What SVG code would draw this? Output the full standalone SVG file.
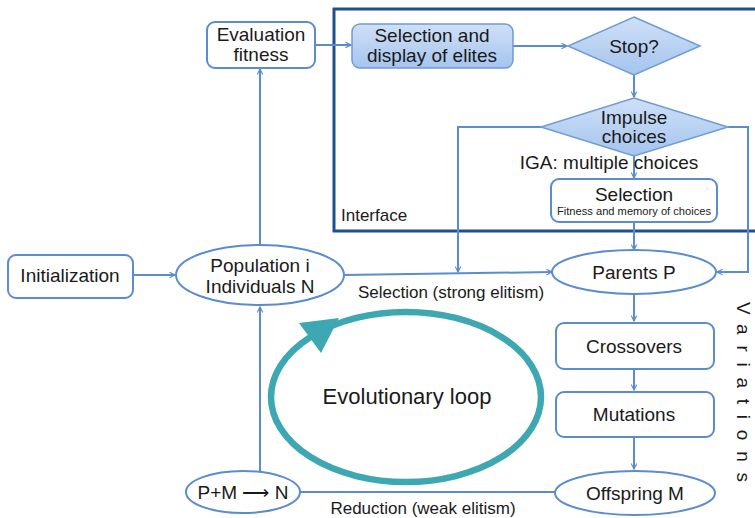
<svg xmlns="http://www.w3.org/2000/svg" width="755" height="518" viewBox="0 0 755 518">
<defs>
<style>
.n{fill:#fff;stroke:#5a8ccf;stroke-width:2}
.t{font-family:"Liberation Sans",Arial,sans-serif;font-size:19px;fill:#1a1a1a;text-anchor:middle}
.s{font-family:"Liberation Sans",Arial,sans-serif;font-size:17px;fill:#1a1a1a;text-anchor:middle}
.c{fill:none;stroke:#5a8ccf;stroke-width:2}
</style>
<linearGradient id="g" x1="0" y1="0" x2="0" y2="1">
<stop offset="0" stop-color="#cfe0f7"/>
<stop offset="1" stop-color="#a5c4ee"/>
</linearGradient>
<marker id="a" viewBox="0 0 10 10" refX="9" refY="5" markerWidth="7" markerHeight="7" markerUnits="userSpaceOnUse" orient="auto">
<path d="M1,1 L9,5 L1,9" fill="none" stroke="#5a8ccf" stroke-width="1.6"/>
</marker>
</defs>
<rect width="755" height="518" fill="#fff"/>

<g id="interface">
<rect x="334" y="9" width="430" height="222" fill="none" stroke="#1f4f8f" stroke-width="3"/>
<text x="341" y="221" class="s" style="text-anchor:start">Interface</text>
</g>

<g id="connectors">
<path class="c" d="M315,45 H351" marker-end="url(#a)"/>
<path class="c" d="M513,46 H567" marker-end="url(#a)"/>
<path class="c" d="M634,75 V97" marker-end="url(#a)"/>
<path class="c" d="M634,156 V178" marker-end="url(#a)"/>
<path class="c" d="M634,222 V250" marker-end="url(#a)"/>
<path class="c" d="M541,127 H458 V272" marker-end="url(#a)"/>
<path class="c" d="M728,127 H748 V272 H717" marker-end="url(#a)"/>
<path class="c" d="M133,275 H175" marker-end="url(#a)"/>
<path class="c" d="M344,275 L552,272" marker-end="url(#a)"/>
<path class="c" d="M260,245 V69" marker-end="url(#a)"/>
<path class="c" d="M634,294 V321" marker-end="url(#a)"/>
<path class="c" d="M634,369 V390" marker-end="url(#a)"/>
<path class="c" d="M634,437 V469" marker-end="url(#a)"/>
<path class="c" d="M300,492 H555"/>
<path class="c" d="M260,471 V307" marker-end="url(#a)"/>
<text x="451" y="298" class="s">Selection (strong elitism)</text>
<text x="423" y="514" class="s">Reduction (weak elitism)</text>
</g>

<g id="evaluation">
<rect class="n" x="207" y="22" width="108" height="46" rx="8"/>
<text x="261" y="41" class="t">Evaluation</text>
<text x="261" y="61" class="t">fitness</text>
</g>

<g id="elites">
<rect x="352" y="24" width="161" height="44" rx="8" fill="url(#g)" stroke="#6f9bd8" stroke-width="1.5"/>
<text x="432" y="42" class="t">Selection and</text>
<text x="432" y="62" class="t">display of elites</text>
</g>

<g id="stop">
<polygon points="634,17 700,46 634,75 568,46" fill="url(#g)" stroke="#6f9bd8" stroke-width="1.5"/>
<text x="634" y="53" class="t">Stop?</text>
</g>

<g id="impulse">
<polygon points="634,98 728,127 634,156 541,127" fill="url(#g)" stroke="#6f9bd8" stroke-width="1.5"/>
<text x="634" y="124" class="t">Impulse</text>
<text x="634" y="143" class="t">choices</text>
</g>
<text x="609" y="169" class="t">IGA: multiple choices</text>

<g id="selection">
<rect class="n" x="551" y="179" width="166" height="43" rx="8"/>
<text x="634" y="201" class="t">Selection</text>
<text x="634" y="215" style="font-family:'Liberation Sans Narrow','Liberation Sans',Arial,sans-serif;font-size:11px;fill:#1a1a1a;text-anchor:middle" textLength="154" lengthAdjust="spacingAndGlyphs">Fitness and memory of choices</text>
</g>

<g id="initialization">
<rect class="n" x="8" y="255" width="125" height="43" rx="8"/>
<text x="70" y="282" class="t">Initialization</text>
</g>

<g id="population">
<ellipse class="n" cx="260" cy="275" rx="84" ry="30"/>
<text x="260" y="272" class="t">Population i</text>
<text x="260" y="293" class="t">Individuals N</text>
</g>

<g id="parents">
<ellipse class="n" cx="634" cy="272" rx="82" ry="22"/>
<text x="634" y="279" class="t">Parents P</text>
</g>

<g id="crossovers">
<rect class="n" x="556" y="323" width="158" height="46" rx="8"/>
<text x="634" y="353" class="t">Crossovers</text>
</g>

<g id="mutations">
<rect class="n" x="556" y="392" width="158" height="45" rx="8"/>
<text x="634" y="421" class="t">Mutations</text>
</g>

<g id="offspring">
<ellipse class="n" cx="635" cy="493" rx="80" ry="22"/>
<text x="635" y="500" class="t">Offspring M</text>
</g>

<g id="reduction">
<ellipse class="n" cx="243" cy="492" rx="57" ry="21"/>
<text x="243" y="499" class="t">P+M ⟶ N</text>
</g>

<g id="loop">
<ellipse cx="406" cy="397" rx="135" ry="85" fill="none" stroke="#3da7b2" stroke-width="6.5"/>
<polygon points="299,323 321,353 339,318" fill="#3da7b2"/>
<text x="407" y="404" style="font-family:'Liberation Sans',Arial,sans-serif;font-size:22px;fill:#1a1a1a;text-anchor:middle">Evolutionary loop</text>
</g>

<g id="variations">
<text x="0" y="0" transform="translate(737,392) rotate(90)" style="font-family:'Liberation Sans',Arial,sans-serif;font-size:19px;fill:#1a1a1a;text-anchor:middle" textLength="180" lengthAdjust="spacing">Variations</text>
</g>
</svg>
